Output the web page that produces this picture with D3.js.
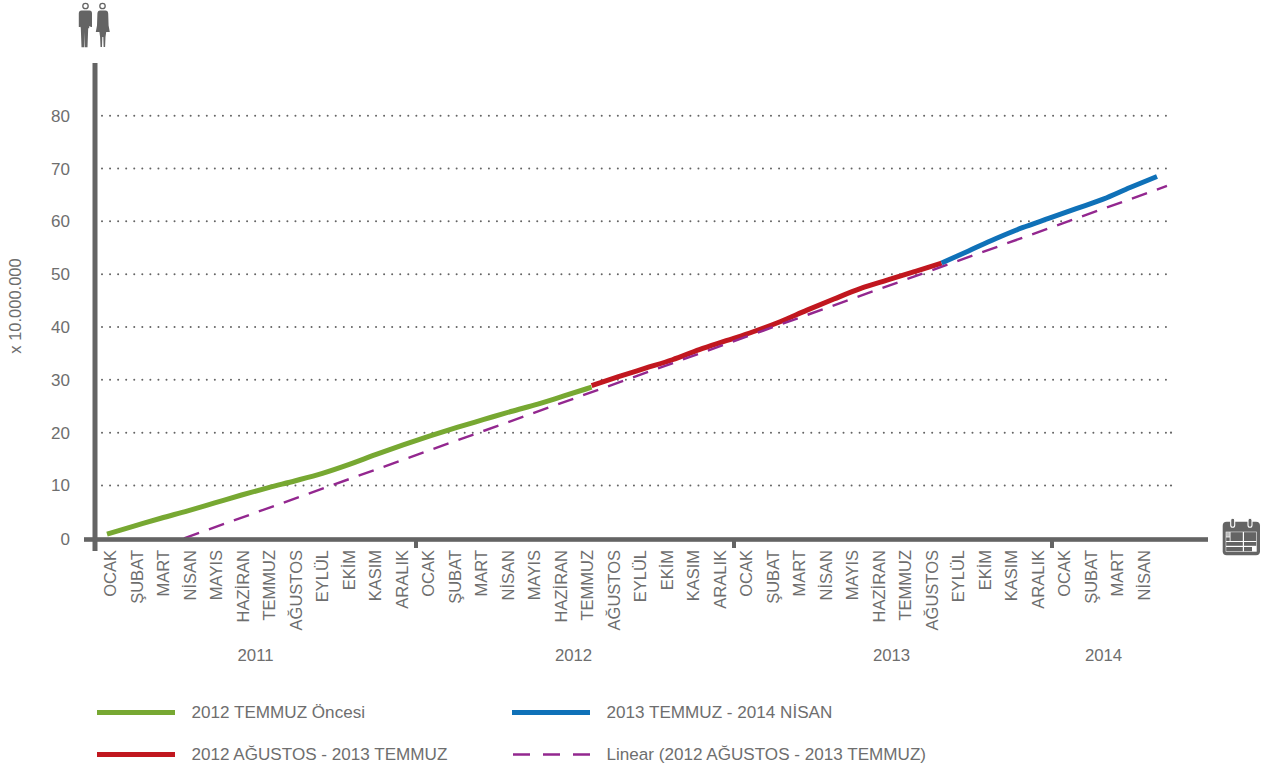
<!DOCTYPE html>
<html><head><meta charset="utf-8">
<style>
html,body{margin:0;padding:0;background:#fff}
svg{display:block}
text{font-family:"Liberation Sans",Arial,sans-serif;fill:#6e6e6e}
</style>
<script src="https://cdn.jsdelivr.net/npm/d3@7/dist/d3.min.js"></script>
</head><body><svg id="c" width="1263" height="772"></svg>
<script>
const monthLabels = ["OCAK","ŞUBAT","MART","NİSAN","MAYIS","HAZİRAN","TEMMUZ","AĞUSTOS","EYLÜL","EKİM","KASIM","ARALIK",
 "OCAK","ŞUBAT","MART","NİSAN","MAYIS","HAZİRAN","TEMMUZ","AĞUSTOS","EYLÜL","EKİM","KASIM","ARALIK",
 "OCAK","ŞUBAT","MART","NİSAN","MAYIS","HAZİRAN","TEMMUZ","AĞUSTOS","EYLÜL","EKİM","KASIM","ARALIK",
 "OCAK","ŞUBAT","MART","NİSAN"];
const years = ["2011","2012","2013","2014"];
const yearMidIndex = [5.37,17.37,29.37,37.37];
const yTicks = [0,10,20,30,40,50,60,70,80];
const greenValues = [0.8,2.3,3.8,5.2,6.7,8.2,9.6,10.9,12.3,14.0,15.9,17.7,19.4,21.0,22.5,24.0,25.4,27.0,28.6];
const redValues = [28.9,30.6,32.2,33.8,35.7,37.4,39.1,41.0,43.2,45.3,47.3,48.9,50.5,52.1];
const blueValues = [52.1,54.4,56.7,58.8,60.6,62.4,64.2,66.4,68.5];
const greenStart = 0, redStart = 18, blueStart = 31;
const trendIndex = [2.86,39.37];
const trendValues = [0,66.7];
const legendItems = [
 {name:"2012 TEMMUZ Öncesi",color:"#77a832",dash:false,col:0,row:0},
 {name:"2012 AĞUSTOS - 2013 TEMMUZ",color:"#c1171f",dash:false,col:0,row:1},
 {name:"2013 TEMMUZ - 2014 NİSAN",color:"#0f71b8",dash:false,col:1,row:0},
 {name:"Linear (2012 AĞUSTOS - 2013 TEMMUZ)",color:"#93278f",dash:true,col:1,row:1}
];
const yearTickIdx = [12,24,36];
const extraDotTicks = [10,20];

const GRAY="#646464";
const svg=d3.select("#c");
const y=d3.scaleLinear().domain([0,80]).range([538.3,115.7]);
const xBand=d3.scaleBand().domain(d3.range(40)).range([97,97+26.5*40]);
const xLine=d3.scaleLinear().domain([0,39]).range([107,1157]);

// grid
svg.append("g").selectAll("line").data(yTicks.slice(1)).join("line")
 .attr("x1",102).attr("x2",1168)
 .attr("y1",d=>y(d)).attr("y2",d=>y(d))
 .attr("stroke",GRAY).attr("stroke-width",2).attr("stroke-linecap","round")
 .attr("stroke-dasharray","0.01 8.05");
svg.append("g").selectAll("circle").data(extraDotTicks).join("circle")
 .attr("cx",1171).attr("cy",d=>y(d)).attr("r",1.1).attr("fill",GRAY);

// series
const line=d3.line().x(d=>xLine(d.i)).y(d=>y(d.v)).curve(d3.curveMonotoneX);
const seq=(vals,s)=>vals.map((v,k)=>({i:s+k,v}));
[[greenValues,greenStart,"#77a832"],[redValues,redStart,"#c1171f"],[blueValues,blueStart,"#0f71b8"]].forEach(([vals,s,c])=>{
 svg.append("path").attr("d",line(seq(vals,s))).attr("fill","none").attr("stroke",c).attr("stroke-width",5);
});
svg.append("path")
 .attr("d",d3.line().x(d=>xLine(d.i)).y(d=>y(d.v))(trendIndex.map((i,k)=>({i,v:trendValues[k]}))))
 .attr("fill","none").attr("stroke","#93278f").attr("stroke-width",2.4).attr("stroke-dasharray","16 10.5");

// axes
svg.append("rect").attr("x",92.5).attr("y",63).attr("width",5).attr("height",488).attr("fill",GRAY);
svg.append("rect").attr("x",84).attr("y",537.2).attr("width",1124).attr("height",4.6).attr("fill",GRAY);
svg.append("g").selectAll("rect").data(yearTickIdx).join("rect")
 .attr("x",d=>98+26.5*d-2).attr("y",540).attr("width",4).attr("height",8).attr("fill",GRAY);

// y tick labels
svg.append("g").selectAll("text").data(yTicks).join("text")
 .attr("x",70).attr("y",d=>y(d)+6+(d===0?1:0)).attr("text-anchor","end")
 .attr("font-size",17).text(d=>d);
svg.append("text").attr("transform","translate(21,306) rotate(-90)")
 .attr("text-anchor","middle").attr("font-size",16.5).text("x 10.000.000");

// month labels
const axis=d3.axisBottom(xBand).tickSize(0).tickFormat(i=>monthLabels[i]);
const ax=svg.append("g").attr("transform","translate(0,550)").call(axis);
ax.select(".domain").remove();
ax.selectAll("text").attr("transform","rotate(-90)")
 .attr("x",0).attr("y",0).attr("dy","0.35em").attr("text-anchor","end")
 .style("font-family",'"Liberation Sans",Arial,sans-serif').style("font-size","16.5px").style("fill","#6e6e6e");

// years
svg.append("g").selectAll("text").data(years).join("text")
 .attr("x",(d,i)=>100+26.5*(yearMidIndex[i]+0.5)).attr("y",661)
 .attr("text-anchor","middle").attr("font-size",16.8).text(d=>d);

// legend
const lx=[97,512], tx=[191.5,606.5], ly=[712.5,754.5];
const lg=svg.append("g").selectAll("g").data(legendItems).join("g");
lg.append("line").attr("x1",d=>lx[d.col]+(d.dash?1:0)).attr("x2",d=>lx[d.col]+78).attr("y1",d=>ly[d.row]).attr("y2",d=>ly[d.row])
 .attr("stroke",d=>d.color).attr("stroke-width",d=>d.dash?2.6:5.2).attr("stroke-dasharray",d=>d.dash?"17 13":null);
lg.append("text").attr("x",d=>tx[d.col]).attr("y",d=>ly[d.row]+5.5).attr("font-size",17.1).text(d=>d.name);

// people icon
const ic=svg.append("g").attr("fill",GRAY);
[85.5,102.5].forEach(cx=>ic.append("circle").attr("cx",cx).attr("cy",6).attr("r",2.7).attr("fill","none").attr("stroke",GRAY).attr("stroke-width",1.3));
ic.append("path").attr("d","M81.5 10.5h8q2.5 0 2.5 3v13.5h-1.6v-0.8l-1.2 0v2l-1 0 -0.7 19h-2.7l-0.3-15-0.3 15h-2.7l-0.7-19 -0.4-2v0.8h-1.6V13.5q0-3 2.8-3z");
ic.append("path").attr("d","M99.5 10.5h6q2.5 0 2.7 3l0.4 12 1.2 6.5h-3.6l-0.7 5-0.4 10h-1.5l-0.3-10h-1l-0.3 10h-1.5l-0.4-10-0.7-5h-3.6l1.2-6.5 0.4-12q0.2-3 2.7-3z");

// calendar icon
const cal=svg.append("g");
cal.append("rect").attr("x",1222.7).attr("y",521.7).attr("width",37.3).attr("height",33.5).attr("rx",4).attr("fill",GRAY);
[1232.7,1250].forEach(cx=>cal.append("rect").attr("x",cx-2).attr("y",518.2).attr("width",4).attr("height",9).attr("rx",2).attr("fill",GRAY).attr("stroke","#fff").attr("stroke-width",1.1));
cal.append("rect").attr("x",1225.7).attr("y",531.7).attr("width",31).attr("height",20).attr("fill","#fff");
const cells=[[1226.2,532.2,3.5,4.4,"#bbb"],[1230.5,532.2,12.3,8.8,GRAY],[1244,532.2,12.2,8.8,GRAY],
 [1226.2,537.4,3.5,3.6,GRAY],[1226.2,542,16.6,3.8,GRAY],[1244,542,12.2,3.8,GRAY],
 [1226.2,547,16.6,4.2,GRAY],[1244,547,8,4.2,GRAY]];
cal.selectAll("rect.c").data(cells).join("rect").attr("class","c")
 .attr("x",d=>d[0]).attr("y",d=>d[1]).attr("width",d=>d[2]).attr("height",d=>d[3]).attr("fill",d=>d[4]);
</script></body></html>
